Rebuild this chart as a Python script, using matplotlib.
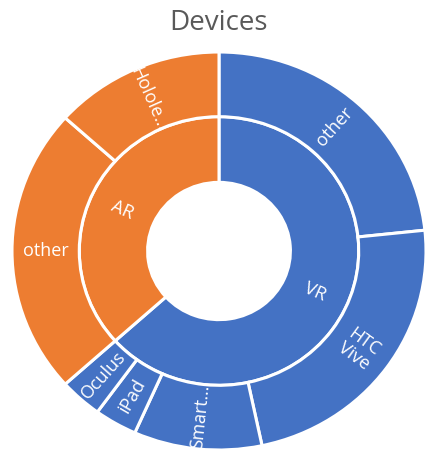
import numpy as np
import matplotlib
matplotlib.use("Agg")
import matplotlib.pyplot as plt

plt.rcParams['font.family'] = ['Open Sans', 'DejaVu Sans']

# data (counts)
inner_labels = ['VR', 'AR']
outer_labels = ['other', 'HTC\nVive', 'Smart…', 'iPad', 'Oculus', 'other', 'Hololе…']
outer_parent = ['VR', 'VR', 'VR', 'VR', 'VR', 'AR', 'AR']
outer_counts = [7, 7, 3, 1, 1, 7, 4]

inner_counts = [sum(c for c, p in zip(outer_counts, outer_parent) if p == lab)
                for lab in inner_labels]

colors = {'VR': '#4472C4', 'AR': '#ED7D31'}
inner_colors = [colors[l] for l in inner_labels]
outer_colors = [colors[p] for p in outer_parent]

W, H = 425, 454
fig = plt.figure(figsize=(W / 100, H / 100), dpi=100)
# pie area in pixels: centre (219, 251), radius ~207 x 199
ax = fig.add_axes([12 / W, (H - 450) / H, 414 / W, 398 / H])

r_hole, r_mid, r_out = 0.345, 0.675, 1.0
wp = dict(edgecolor='white', linewidth=2.2)

w_in, _ = ax.pie(inner_counts, radius=r_mid, colors=inner_colors, startangle=90,
                 counterclock=False, wedgeprops=dict(width=r_mid - r_hole, **wp))
w_out, _ = ax.pie(outer_counts, radius=r_out, colors=outer_colors, startangle=90,
                  counterclock=False, wedgeprops=dict(width=r_out - r_mid, **wp))

ax.set_aspect('auto')
ax.set_xlim(-1, 1)
ax.set_ylim(-1, 1)
ax.axis('off')


def put_labels(wedges, labels, r):
    for w, lab in zip(wedges, labels):
        ang = (w.theta1 + w.theta2) / 2.0
        a = ang % 360
        if 90 < a < 270:
            rot = a - 180
        else:
            rot = ((a + 180) % 360) - 180
        x = r * np.cos(np.radians(ang))
        y = r * np.sin(np.radians(ang))
        ax.text(x, y, lab, color='white', fontsize=13, ha='center', va='center',
                rotation=rot, rotation_mode='anchor', linespacing=1.0)


put_labels(w_in, inner_labels, (r_hole + r_mid) / 2)
put_labels(w_out, outer_labels, (r_mid + r_out) / 2)

fig.text(219 / W, 1 - 23 / H, 'Devices', ha='center', va='center',
         fontsize=20, color='#595959')

fig.savefig('out.png', dpi=100)
